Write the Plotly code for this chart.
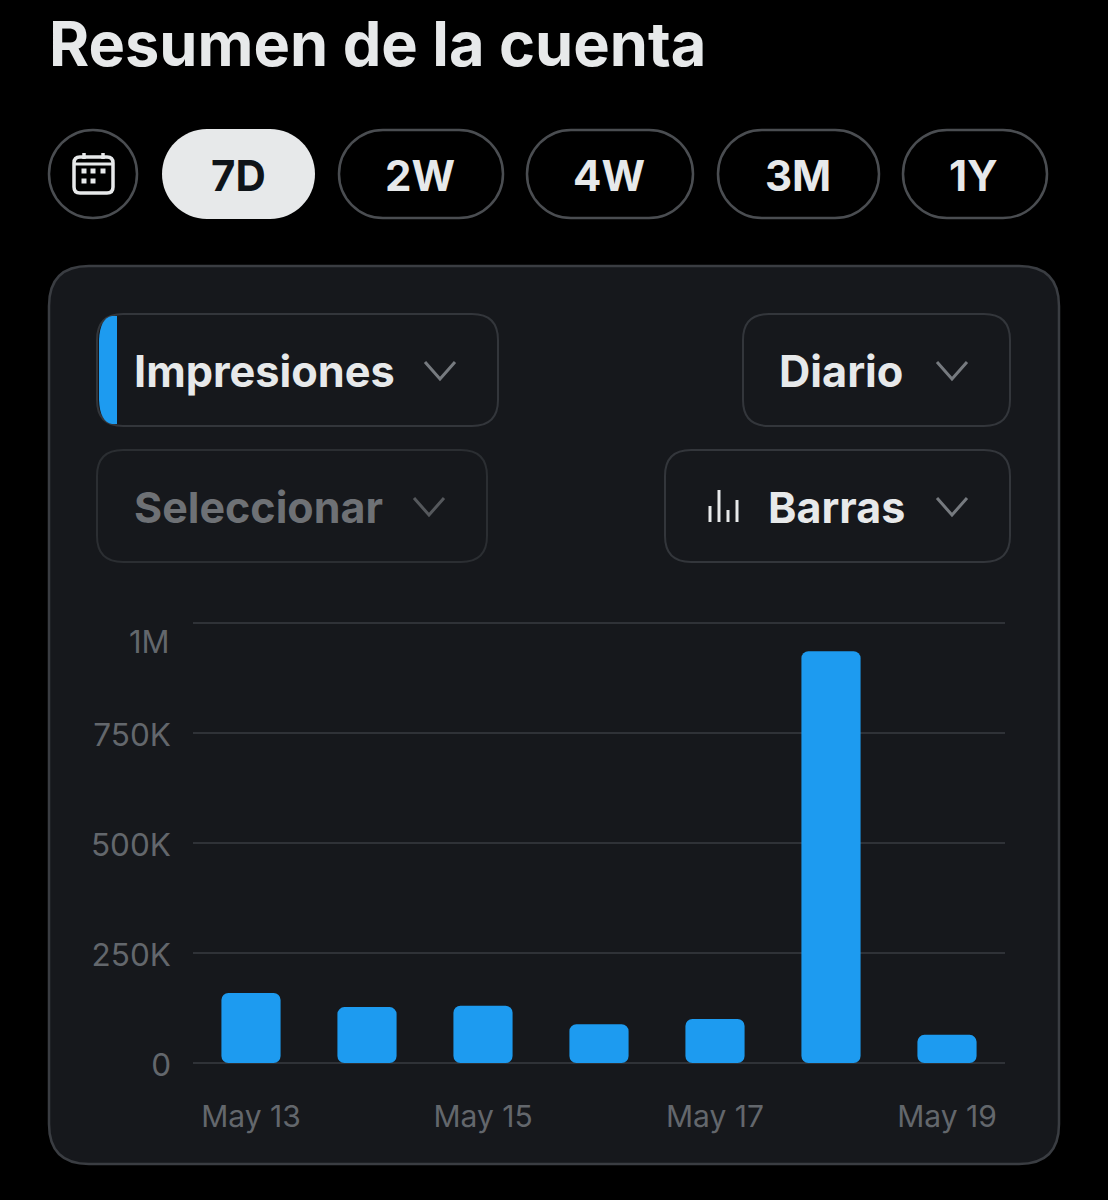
import plotly.graph_objects as go

dates = ["May 13", "May 14", "May 15", "May 16", "May 17", "May 18", "May 19"]
impressions = [159000, 127000, 130000, 88000, 100000, 936000, 64000]
bar_base = [0, 0, 0, 0, 0, 0, 0]
y_tick_values = [0, 250000, 500000, 750000, 1000000]
y_tick_labels = ["0", "250K", "500K", "750K", ""]
x_tick_labels = ["May 13", "May 15", "May 17", "May 19"]
period_labels = ["7D", "2W", "4W", "3M", "1Y"]

W, H = 1108, 1200
FONT = "Inter"
BLUE = "#1d9bf0"
TXT = "#e7e9ea"
MUTED = "#63676c"

def X(p): return p / W
def Y(p): return 1 - p / H

def rrect(x0, y0, x1, y1, r):
    return (f"M{X(x0+r)},{Y(y0)} L{X(x1-r)},{Y(y0)} Q{X(x1)},{Y(y0)} {X(x1)},{Y(y0+r)} "
            f"L{X(x1)},{Y(y1-r)} Q{X(x1)},{Y(y1)} {X(x1-r)},{Y(y1)} "
            f"L{X(x0+r)},{Y(y1)} Q{X(x0)},{Y(y1)} {X(x0)},{Y(y1-r)} "
            f"L{X(x0)},{Y(y0+r)} Q{X(x0)},{Y(y0)} {X(x0+r)},{Y(y0)} Z")

shapes, notes = [], []

def box(x0, y0, x1, y1, r, fill="rgba(0,0,0,0)", line="#33363b", w=2):
    shapes.append(dict(type="path", xref="paper", yref="paper", path=rrect(x0, y0, x1, y1, r),
                       fillcolor=fill, line=dict(color=line, width=w), layer="below"))

def pill(x0, y0, x1, y1, fill="rgba(0,0,0,0)", line="#4a4d51", w=2.5):
    r = (y1 - y0) / 2
    k = 0.5523 * r
    d = (f"M{X(x0+r)},{Y(y0)} L{X(x1-r)},{Y(y0)} "
         f"C{X(x1-r+k)},{Y(y0)} {X(x1)},{Y(y0+r-k)} {X(x1)},{Y(y0+r)} "
         f"C{X(x1)},{Y(y0+r+k)} {X(x1-r+k)},{Y(y1)} {X(x1-r)},{Y(y1)} "
         f"L{X(x0+r)},{Y(y1)} "
         f"C{X(x0+r-k)},{Y(y1)} {X(x0)},{Y(y0+r+k)} {X(x0)},{Y(y0+r)} "
         f"C{X(x0)},{Y(y0+r-k)} {X(x0+r-k)},{Y(y0)} {X(x0+r)},{Y(y0)} Z")
    shapes.append(dict(type="path", xref="paper", yref="paper", path=d,
                       fillcolor=fill, line=dict(color=line, width=w), layer="below"))

def poly(pts, color, w=3):
    d = "M" + " L".join(f"{X(a)},{Y(b)}" for a, b in pts)
    shapes.append(dict(type="path", xref="paper", yref="paper", path=d,
                       line=dict(color=color, width=w), layer="below"))

def label(x, y, text, size, color=TXT, anchor="center", bold=True):
    notes.append(dict(xref="paper", yref="paper", x=X(x), y=Y(y), text=f"<b>{text}</b>" if bold else text,
                      showarrow=False, xanchor=anchor, yanchor="middle",
                      font=dict(family=FONT, size=size, color=color)))

def chevron(cx, cy, color="#767a7f"):
    poly([(cx - 15, cy - 9), (cx, cy + 8), (cx + 15, cy - 9)], color, 3)

label(47, 44, "Resumen de la cuenta", 61.3, anchor="left")

# period buttons
pill(49, 130, 137, 218)
box(74, 157, 113, 193, 6, line=TXT, w=3.5)
poly([(74, 164), (113, 164)], TXT, 3)
poly([(84, 153), (84, 159)], TXT, 3.5)
poly([(103, 153), (103, 159)], TXT, 3.5)
for gx, gy in [(84, 171), (93, 171), (103, 171), (84, 181), (93, 181)]:
    shapes.append(dict(type="rect", xref="paper", yref="paper", x0=X(gx - 2.5), x1=X(gx + 2.5),
                       y0=Y(gy - 2.5), y1=Y(gy + 2.5), fillcolor=TXT, line=dict(width=0), layer="below"))

pills = [(162, 315), (339, 503), (527, 693), (718, 879), (903, 1047)]
for i, (name, (a, b)) in enumerate(zip(period_labels, pills)):
    if i == 0:
        pill(a, 129, b, 219, fill=TXT, line=TXT, w=0)
        label((a + b) / 2, 175, name, 42, color="#0f1419")
    else:
        pill(a, 130, b, 218)
        label((a + b) / 2 - 1, 175, name, 42)

# card
box(49, 266, 1059, 1164, 40, fill="#16181c", line="#3a3d42", w=2.5)

# selectors
box(97, 314, 498, 426, 26)
shapes.append(dict(type="path", xref="paper", yref="paper", layer="below", fillcolor=BLUE, line=dict(width=0),
                   path=f"M{X(117)},{Y(316)} L{X(112)},{Y(316)} Q{X(100)},{Y(318)} {X(99)},{Y(340)} "
                        f"L{X(99)},{Y(400)} Q{X(100)},{Y(422)} {X(112)},{Y(424)} L{X(117)},{Y(424)} Z"))
label(132, 371, "Impresiones", 43.3, anchor="left")
chevron(440, 371)
box(743, 314, 1010, 426, 26)
label(777, 371, "Diario", 43.3, anchor="left")
chevron(952, 371)
box(97, 450, 487, 562, 26, line="#2b2e32")
label(132, 507, "Seleccionar", 43, color="#6e7175", anchor="left")
chevron(429, 507, "#55585c")
box(665, 450, 1010, 562, 26)
for bx, top in [(710, 506), (719, 490), (728, 510), (737, 500)]:
    poly([(bx, top), (bx, 522)], TXT, 3)
label(766, 507, "Barras", 43, anchor="left")
chevron(952, 507)

# top tick sits below its gridline in the reference
notes.append(dict(xref="paper", yref="y", x=X(172), y=y_tick_values[-1], yshift=-18, text="1M",
                  showarrow=False, xanchor="right", yanchor="middle",
                  font=dict(family=FONT, size=31, color=MUTED)))

fig = go.Figure()
# an explicit base makes Plotly round both ends of each bar
fig.add_trace(go.Bar(x=dates, y=impressions, base=bar_base, width=0.51,
                     marker=dict(color=BLUE, cornerradius=7, line=dict(width=0)),
                     hovertemplate="%{x}: %{y}<extra></extra>"))

fig.update_layout(
    width=W, height=H, margin=dict(l=0, r=0, t=0, b=0), showlegend=False,
    paper_bgcolor="#000000", plot_bgcolor="rgba(0,0,0,0)",
    font=dict(family=FONT, color=MUTED), shapes=shapes, annotations=notes,
    xaxis=dict(domain=[X(193), X(1005)], type="category", categoryorder="array", categoryarray=dates,
               range=[-0.5, 6.5], tickmode="array", tickvals=x_tick_labels, ticktext=x_tick_labels,
               showgrid=False, zeroline=False, showline=False, ticks="", automargin=False,
               tickfont=dict(family=FONT, size=30, color=MUTED), ticklabelstandoff=29, fixedrange=True),
    yaxis=dict(domain=[Y(1067), Y(619)], range=[-9091, 1009091], tickmode="array",
               tickvals=y_tick_values, ticktext=y_tick_labels, gridcolor="#2f3237", gridwidth=2,
               zeroline=False, showline=False, ticks="", automargin=False,
               tickfont=dict(family=FONT, size=31.5, color=MUTED), ticklabelstandoff=21,
               ticklabelshift=2, fixedrange=True),
)

fig.write_html("out.html", config={"displayModeBar": False},
               post_script="document.body.style.margin='0';document.documentElement.style.background='#000';")
